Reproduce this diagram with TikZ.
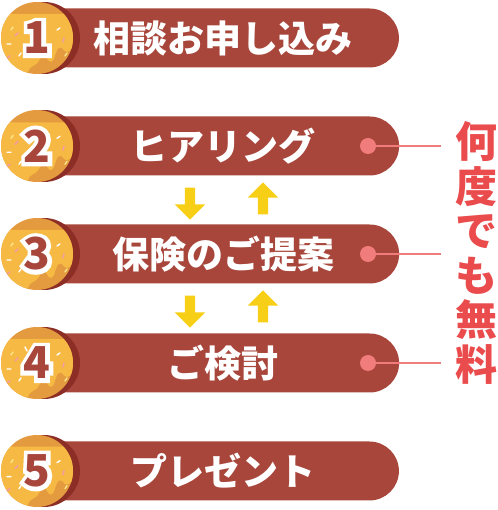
\documentclass[tikz,border=0pt]{standalone}
\usepackage{fontspec}
\usepackage{tikz}
\usetikzlibrary{shapes.misc, shapes.arrows, positioning}
\usepackage{xcolor}
\newfontfamily\jpfont{Noto Sans CJK JP}
\newfontfamily\numedge{Noto Sans CJK JP Bold}[FakeBold=19]

\definecolor{barred}{HTML}{A8463B}
\definecolor{shadowred}{HTML}{8C2E25}
\definecolor{donutbase}{HTML}{E49A3E}
\definecolor{donuttop}{HTML}{F6B944}
\definecolor{notepink}{HTML}{F07C7C}
\definecolor{notered}{HTML}{EA4B4C}
\definecolor{arrowyellow}{HTML}{F6CF16}
\definecolor{sprinkpink}{HTML}{F59AA6}
\definecolor{sprinkyellow}{HTML}{FCE68A}

% digit with a white rim
\newcommand{\rimnum}[1]{\makebox[0pt][c]{\numedge\color{white}#1}\makebox[0pt][c]{#1}}

\begin{document}
\begin{tikzpicture}[x=1pt, y=1pt,
    stepbar/.style = {rounded rectangle, rounded rectangle left arc=none, fill=barred, minimum width=346pt, minimum height=59pt, inner sep=0pt, text=white, font=\jpfont\bfseries\fontsize{37}{37}\selectfont},
    badge/.style = {circle, minimum size=72pt, inner sep=0pt, fill=donutbase, text=barred, font=\jpfont\bfseries\fontsize{44}{44}\selectfont,
        path picture={
            \begin{scope}[shift={(path picture bounding box.center)}]
            \fill[donuttop] (-40,40) -- (40,40) -- (40,10) .. controls (36,10) and (34,2) .. (30,2) .. controls (26,2) and (26,8) .. (22,6) .. controls (18,4) and (18,-8) .. (14,-8) .. controls (10,-8) and (10,0) .. (6,-2) .. controls (2,-4) and (2,-10) .. (-4,-12) .. controls (-10,-14) and (-8,-22) .. (-14,-24) .. controls (-20,-26) and (-20,-16) .. (-26,-20) .. controls (-32,-24) and (-34,-34) .. (-40,-34) -- cycle;
            \draw[sprinkpink, line width=1.4pt, line cap=round] (-22,18) -- ++(3,3) (6,28) -- ++(3,-2) (26,12) -- ++(1,4) (-30,-4) -- ++(3,2);
            \draw[white, line width=1.4pt, line cap=round] (-10,28) -- ++(-2,4) (20,24) -- ++(3,2) (-30,10) -- ++(4,0) (-18,-2) -- ++(2,3);
            \draw[sprinkyellow, line width=1.4pt, line cap=round] (-2,31) -- ++(3,1) (-26,24) -- ++(2,3) (28,-2) -- ++(2,3);
            \end{scope}}},
    notedot/.style = {circle, fill=notepink, minimum size=16pt, inner sep=0pt},
    noteline/.style = {notepink, line width=2.5pt},
    yarrow/.style = {single arrow, fill=arrowyellow, inner sep=5pt, minimum height=32pt, single arrow head extend=10pt, single arrow head indent=0pt}
]
\useasboundingbox (0,0) rectangle (497,510);

% Step bars
\node (step1) [stepbar] at (223,472) {相談お申し込み};
\node (step2) [stepbar] at (223,364) {ヒアリング};
\node (step3) [stepbar] at (223,256) {保険のご提案};
\node (step4) [stepbar] at (223,147) {ご検討};
\node (step5) [stepbar] at (223,39) {プレゼント};

% Shadows behind the badges
\fill[shadowred] (44,472) circle (36);
\fill[shadowred] (44,364) circle (36);
\fill[shadowred] (44,256) circle (36);
\fill[shadowred] (44,147) circle (36);
\fill[shadowred] (44,39) circle (36);

% Number badges
\node (num1) [badge] at (37,472) {\rimnum{1}};
\node (num2) [badge] at (37,364) {\rimnum{2}};
\node (num3) [badge] at (37,256) {\rimnum{3}};
\node (num4) [badge] at (37,147) {\rimnum{4}};
\node (num5) [badge] at (37,39) {\rimnum{5}};

% Up and down arrows
\node (down1) [yarrow, rotate=-90] at (190,309) {};
\node (up1) [yarrow, rotate=90] at (263,309) {};
\node (down2) [yarrow, rotate=-90] at (190,201) {};
\node (up2) [yarrow, rotate=90] at (263,201) {};

% Free of charge note
\node (dot2) [notedot] at (368,364) {};
\node (dot3) [notedot] at (368,256) {};
\node (dot4) [notedot] at (368,147) {};
\coordinate (end2) at (441,364);
\coordinate (end3) at (441,256);
\coordinate (end4) at (441,147);
\draw [noteline] (dot2) -- (end2);
\draw [noteline] (dot3) -- (end3);
\draw [noteline] (dot4) -- (end4);

\node (free) [align=center, inner sep=0pt, text=notered, font=\jpfont\bfseries\fontsize{42}{44.5}\selectfont] at (476,257) {何\\度\\で\\も\\無\\料};

\end{tikzpicture}
\end{document}
